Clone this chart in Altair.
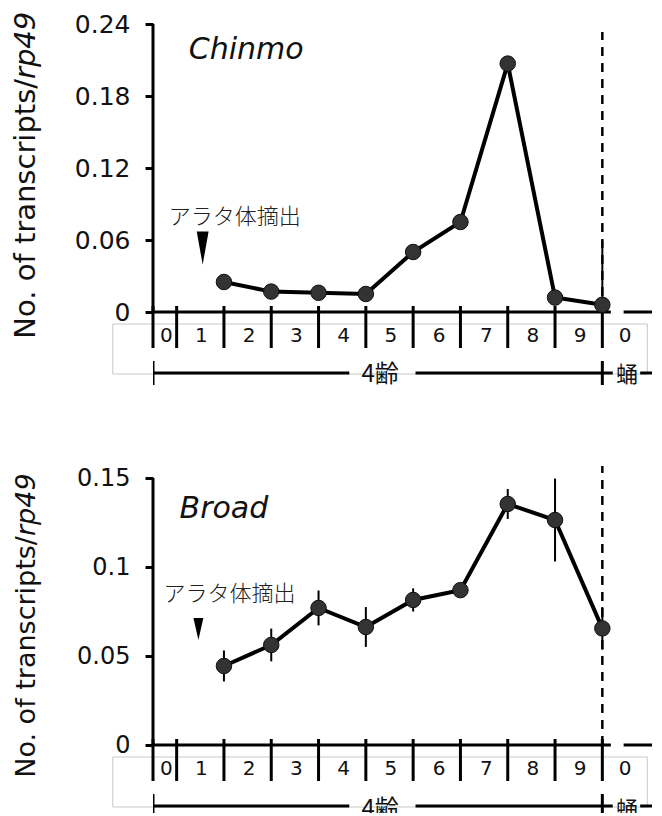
import altair as alt
import pandas as pd

# ---------------- data ----------------
day_pos = [2, 3, 4, 5, 6, 7, 8, 9, 10]          # 10 = pupa day 0
chinmo_mean = [0.025, 0.017, 0.016, 0.015, 0.050, 0.075, 0.207, 0.012, 0.006]
chinmo_err = [0.002, 0.002, 0.002, 0.002, 0.003, 0.003, 0.004, 0.002, 0.053]
broad_mean = [0.0444, 0.0562, 0.0770, 0.0663, 0.0815, 0.0870, 0.1354, 0.1264, 0.0655]
broad_err = [0.0087, 0.0092, 0.0098, 0.0112, 0.0065, 0.0030, 0.0084, 0.0233, 0.0120]

tick_pos = [0.5, 1, 2, 3, 4, 5, 6, 7, 8, 9, 10]
day_label_text = ["0", "1", "2", "3", "4", "5", "6", "7", "8", "9", "0"]
day_label_pos = [0.78, 1.52, 2.53, 3.53, 4.53, 5.53, 6.55, 7.55, 8.53, 9.53, 10.48]

chinmo_yticks = [0, 0.06, 0.12, 0.18, 0.24]
broad_yticks = [0, 0.05, 0.1, 0.15]

stage_labels = ["4齢", "蛹"]
note_text = "アラタ体摘出"
ytitle_main = "No. of transcripts/"
ytitle_ital = "rp49"

FONT = "DejaVu Sans"
CJK = "Noto Sans CJK JP"
XMAX = 11.05
PX_PER_DAY = 47.3
W = round((XMAX - 0.5) * PX_PER_DAY)


def panel(gene, mean, err, yticks, ymax, u, below_px, title_size, title_split,
          gene_xy, note_xy, arrow_xy, arrow_path, arrow_size, dash_top, label_size,
          bracket_px, stage_px):
    height_px = round(ymax / u + below_px)
    ymin = ymax - height_px * u
    xs = alt.Scale(domain=[0.5, XMAX], nice=False, zero=False)
    ys = alt.Scale(domain=[ymin, ymax], nice=False, zero=False)
    yaxis = alt.Axis(values=yticks, format=".2~f", title=None, grid=False, domain=False,
                     tickSize=8, tickWidth=3, tickColor="black", labelFont=FONT,
                     labelFontSize=label_size, labelPadding=15, labelColor="#111")

    def below(px):
        return -px * u

    def X(f):
        return alt.X(f, type="quantitative", scale=xs, axis=None)

    def Y(f):
        return alt.Y(f, type="quantitative", scale=ys, axis=yaxis)

    series = pd.DataFrame({
        "day": day_pos,
        "mean": mean,
        "lo": [max(0.0, m - e) for m, e in zip(mean, err)],
        "hi": [m + e for m, e in zip(mean, err)],
    })

    layers = []

    # grey label box
    box = pd.DataFrame({"x": [-0.35], "x2": [10.95], "y": [below(12)], "y2": [below(bracket_px + 1)]})
    layers.append(alt.Chart(box).mark_rect(fillOpacity=0, stroke="#c8c8c8", strokeWidth=1).encode(
        x=X("x"), x2="x2", y=Y("y"), y2="y2"))

    # x axis line segments
    axl = pd.DataFrame({"x": [0.5, 10.45], "x2": [10.18, XMAX], "y": [0.0, 0.0]})
    layers.append(alt.Chart(axl).mark_rule(color="black", strokeWidth=3).encode(
        x=X("x"), x2="x2", y=Y("y")))

    # y axis line
    yax = pd.DataFrame({"x": [0.5], "y": [0.0], "y2": [ymax]})
    layers.append(alt.Chart(yax).mark_rule(color="black", strokeWidth=3).encode(
        x=X("x"), y=Y("y"), y2="y2"))

    # day ticks
    tk = pd.DataFrame({"x": tick_pos, "y": [below(-6)] * len(tick_pos), "y2": [below(36)] * len(tick_pos)})
    layers.append(alt.Chart(tk).mark_rule(color="black", strokeWidth=3).encode(
        x=X("x"), y=Y("y"), y2="y2"))

    # day labels
    dl = pd.DataFrame({"x": day_label_pos, "y": [below(24)] * len(day_label_pos), "t": day_label_text})
    layers.append(alt.Chart(dl).mark_text(font=FONT, fontSize=20, color="#111", baseline="middle").encode(
        x=X("x"), y=Y("y"), text="t"))

    # stage bracket (clipped to the panel, as in the figure)
    br = pd.DataFrame({"x": [0.5, 6.05, 10.8], "x2": [4.65, 10.22, XMAX], "y": [below(bracket_px)] * 3})
    layers.append(alt.Chart(br).mark_rule(color="black", strokeWidth=3, clip=True).encode(
        x=X("x"), x2="x2", y=Y("y")))
    bt = pd.DataFrame({"x": [0.5, 10.0], "y": [below(bracket_px - 12)] * 2, "y2": [below(bracket_px + 12)] * 2})
    layers.append(alt.Chart(bt).mark_rule(color="black", strokeWidth=3, clip=True).encode(
        x=X("x"), y=Y("y"), y2="y2"))
    st = pd.DataFrame({"x": [5.3, 10.52], "y": [below(stage_px)] * 2, "t": stage_labels, "s": [24, 22]})
    layers.append(alt.Chart(st).mark_text(font=CJK, color="#111", baseline="middle", clip=True).encode(
        x=X("x"), y=Y("y"), text="t", size=alt.Size("s:Q", scale=None, legend=None)))

    # dashed pupariation line
    dl2 = pd.DataFrame({"x": [10.0], "y": [0.0], "y2": [dash_top]})
    layers.append(alt.Chart(dl2).mark_rule(color="black", strokeWidth=2.5, strokeDash=[9, 7]).encode(
        x=X("x"), y=Y("y"), y2="y2"))

    # error bars
    layers.append(alt.Chart(series).mark_rule(color="black", strokeWidth=2).encode(
        x=X("day"), y=Y("lo"), y2="hi"))

    # line + points
    layers.append(alt.Chart(series).mark_line(color="black", strokeWidth=4).encode(
        x=X("day"), y=Y("mean")))
    layers.append(alt.Chart(series).mark_point(filled=True, size=240, color="#333333", opacity=1,
                                               stroke="#111111", strokeWidth=1).encode(
        x=X("day"), y=Y("mean")))

    # arrowhead
    ar = pd.DataFrame({"x": [arrow_xy[0]], "y": [arrow_xy[1]]})
    layers.append(alt.Chart(ar).mark_point(shape=arrow_path, size=arrow_size, filled=True,
                                           color="black", opacity=1).encode(x=X("x"), y=Y("y")))

    # annotation texts
    gn = pd.DataFrame({"x": [gene_xy[0]], "y": [gene_xy[1]], "t": [gene]})
    layers.append(alt.Chart(gn).mark_text(font=FONT, fontSize=30, fontStyle="italic", color="#111",
                                          baseline="middle").encode(x=X("x"), y=Y("y"), text="t"))
    nt = pd.DataFrame({"x": [note_xy[0]], "y": [note_xy[1]], "t": [note_text]})
    layers.append(alt.Chart(nt).mark_text(font=CJK, fontSize=22, fontWeight=300, color="#222",
                                          baseline="middle").encode(x=X("x"), y=Y("y"), text="t"))

    # y title (normal + italic part)
    t1 = pd.DataFrame({"x": [-2.0], "y": [title_split], "t": [ytitle_main]})
    layers.append(alt.Chart(t1).mark_text(font=FONT, fontSize=title_size, angle=270, align="right",
                                          baseline="alphabetic", color="#111").encode(
        x=X("x"), y=Y("y"), text="t"))
    t2 = pd.DataFrame({"x": [-2.0], "y": [title_split], "t": [ytitle_ital]})
    layers.append(alt.Chart(t2).mark_text(font=FONT, fontSize=title_size, angle=270, align="left",
                                          fontStyle="italic", baseline="alphabetic", color="#111").encode(
        x=X("x"), y=Y("y"), text="t"))

    return alt.layer(*layers).properties(width=W, height=height_px)


u1 = 0.24 / 288
u2 = 0.15 / 267

top = panel("Chinmo", chinmo_mean, chinmo_err, chinmo_yticks, 0.24, u1, 77, 29, 0.1942,
            (2.47, 0.2183), (2.23, 0.079), (1.55, 0.0533), "M-0.36,-1L0.36,-1L0,1Z", 1089, 0.2333, 25,
            61, 63)
bottom = panel("Broad", broad_mean, broad_err, broad_yticks, 0.15, u2, 68, 27, 0.1174,
               (2.0, 0.1326), (2.12, 0.0848), (1.46, 0.0652), "M-0.45,-1L0.45,-1L0,1Z", 484, 0.1567, 24,
               61, 65)

chart = alt.vconcat(top, bottom, spacing=75).properties(
    padding={"left": 3, "top": 3, "right": 0, "bottom": 0}
).configure_view(stroke=None)

chart.save("out.html", embed_options={"renderer": "svg", "actions": False})
